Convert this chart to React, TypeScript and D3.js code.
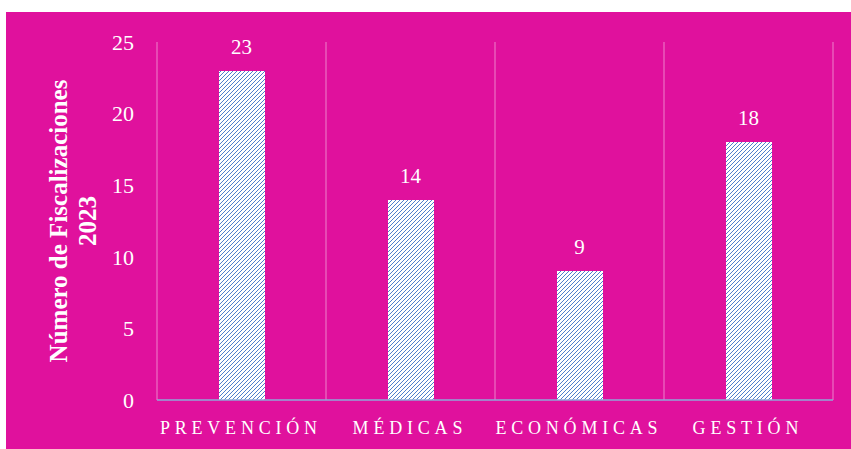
import React from "react";
import * as d3 from "d3";

const categories = ["PREVENCIÓN", "MÉDICAS", "ECONÓMICAS", "GESTIÓN"];
const values = [23, 14, 9, 18];
const yTicks = [0, 5, 10, 15, 20, 25];
const yTitleLines = ["Número de Fiscalizaciones", "2023"];

const W = 851;
const H = 449;
const margin = { left: 157, right: 18, top: 42, bottom: 49 };

export default function App() {
  const x = d3
    .scaleBand<string>()
    .domain(categories)
    .range([margin.left, W - margin.right])
    .paddingInner(0)
    .paddingOuter(0);
  const y = d3.scaleLinear().domain([0, 25]).range([H - margin.bottom, margin.top]);
  const barW = 46;
  const font = "'Liberation Serif', 'DejaVu Serif', serif";
  const boundaries = [...categories.map((c) => x(c)!), x.range()[1]];
  const blue = "#4f7fcc";

  return (
    <svg
      width={W}
      height={H}
      style={{ position: "absolute", left: 0, top: 0, display: "block" }}
    >
      <defs>
        <pattern id="diag" width="4" height="4" patternUnits="userSpaceOnUse">
          <rect width="4" height="4" fill="#ffffff" shapeRendering="crispEdges" />
          <rect x="0" y="3" width="1" height="1" fill={blue} shapeRendering="crispEdges" />
          <rect x="1" y="2" width="1" height="1" fill={blue} shapeRendering="crispEdges" />
          <rect x="2" y="1" width="1" height="1" fill={blue} shapeRendering="crispEdges" />
          <rect x="3" y="0" width="1" height="1" fill={blue} shapeRendering="crispEdges" />
        </pattern>
      </defs>
      <rect x={0} y={0} width={W} height={H} fill="#ffffff" />
      <rect x={6} y={12} width={W - 6} height={H - 12} fill="#e0119d" />
      {boundaries.map((bx, i) => (
        <line
          key={i}
          x1={bx}
          x2={bx}
          y1={y(25)}
          y2={y(0)}
          stroke="#ea5cbd"
          strokeWidth={1.5}
        />
      ))}
      {categories.map((c, i) => {
        const cx = x(c)! + x.bandwidth() / 2;
        return (
          <g key={c}>
            <rect
              x={Math.round(cx - barW / 2)}
              y={Math.round(y(values[i]))}
              width={barW}
              height={Math.round(y(0)) - Math.round(y(values[i]))}
              fill="url(#diag)"
              shapeRendering="crispEdges"
            />
            <text
              x={cx}
              y={y(values[i]) - 17}
              textAnchor="middle"
              fill="#ffffff"
              fontFamily={font}
              fontSize={21}
            >
              {values[i]}
            </text>
            <text
              x={cx - 0.6}
              y={y(0) + 34}
              textAnchor="middle"
              fill="#ffffff"
              fontFamily={font}
              fontSize={18}
              letterSpacing={4.8}
            >
              {c}
            </text>
          </g>
        );
      })}
      <line
        x1={margin.left}
        x2={W - margin.right}
        y1={y(0)}
        y2={y(0)}
        stroke="#8fa9d9"
        strokeWidth={1.5}
      />
      {yTicks.map((t) => (
        <text
          key={t}
          x={134}
          y={y(t)}
          dy="0.35em"
          textAnchor="end"
          fill="#ffffff"
          fontFamily={font}
          fontSize={22}
        >
          {t}
        </text>
      ))}
      <text
        transform={`translate(67, ${(y(0) + y(25)) / 2}) rotate(-90)`}
        textAnchor="middle"
        fill="#ffffff"
        fontFamily={font}
        fontWeight="bold"
        fontSize={25}
      >
        <tspan x={0} dy={0}>{yTitleLines[0]}</tspan>
        <tspan x={0} dy={29}>{yTitleLines[1]}</tspan>
      </text>
    </svg>
  );
}
